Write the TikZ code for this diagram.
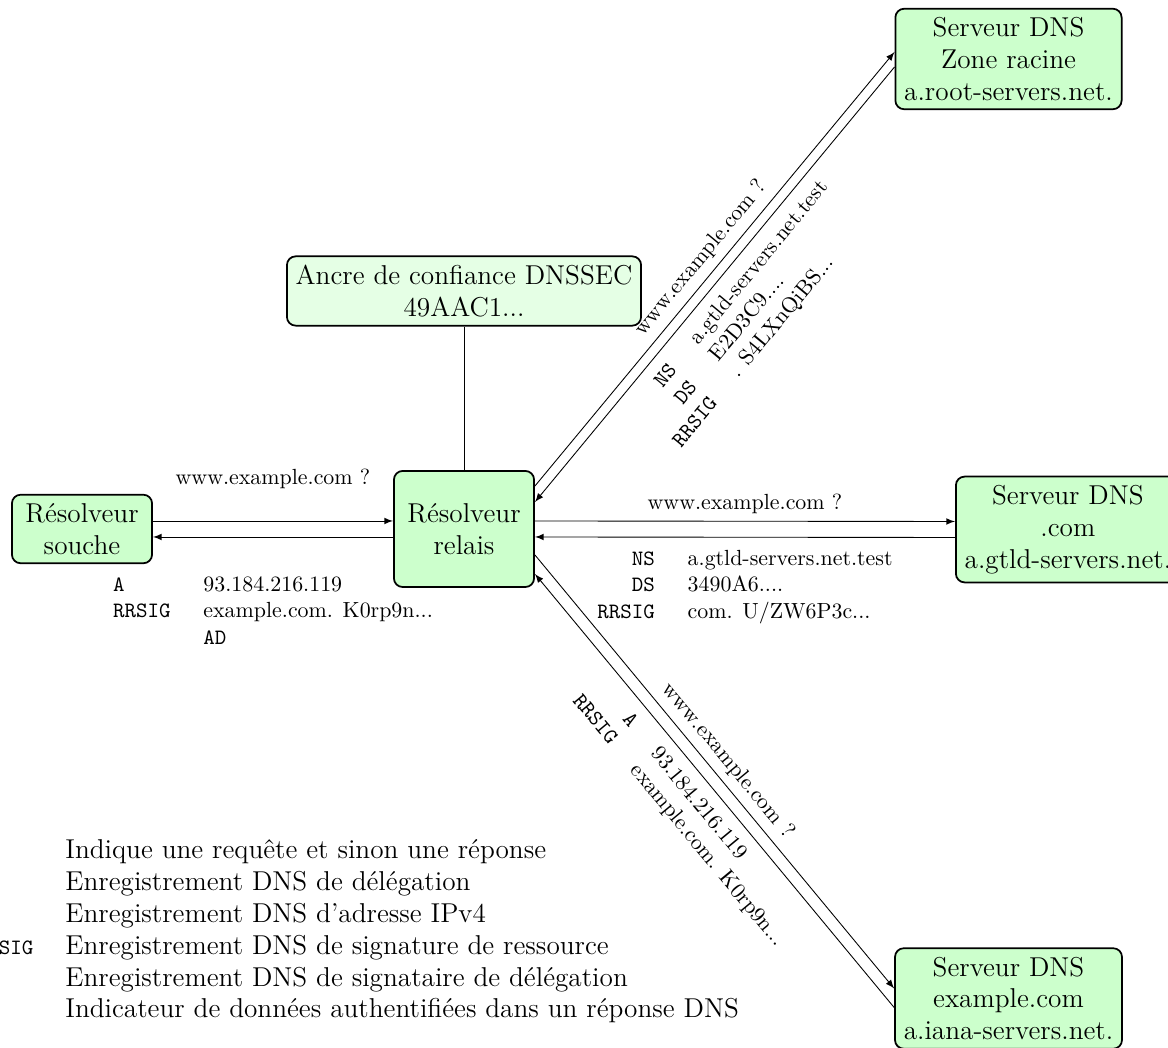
\documentclass[tikz,border=0pt]{standalone}
\usetikzlibrary{calc}
\begin{document}
\begin{tikzpicture}[x=0.4566pt, y=0.4566pt,
  box/.style={draw, thick, rounded corners=4pt, fill=green!20, align=center,
    inner sep=4pt, font=\fontsize{12.45}{14.5}\selectfont},
  trustbox/.style={box, fill=green!10},
  msg/.style={-latex},
  lbl/.style={font=\fontsize{10}{12}\selectfont},
]
\useasboundingbox (0,0) rectangle (1168,1048);
\clip (0,0) rectangle (1168,1048);

% resolvers, trust anchor and authoritative servers
\node[box, minimum width=64pt, minimum height=31pt] (souche) at (82,519) {Résolveur\\souche};
\node[box, minimum width=64pt, minimum height=53pt] (relais) at (464,519) {Résolveur\\relais};
\node[trustbox] (trust) at (464,757) {Ancre de confiance DNSSEC\\49AAC1...};
\node[box] (root) at (1008.5,989) {Serveur DNS\\Zone racine\\a.root-servers.net.};
\node[box, anchor=west] (tld) at (955,518.5) {Serveur DNS\\.com\\a.gtld-servers.net.};
\node[box] (zone) at (1008.5,49.5) {Serveur DNS\\example.com\\a.iana-servers.net.};

\draw (trust.south) -- (relais.north);

% stub <-> recursive resolver
\draw[msg] ($(souche.east)+(0,8)$) -- node[lbl, midway, above=11pt] {www.example.com~?} ($(relais.west)+(0,8)$);
\draw[msg] ($(relais.west)+(0,-8)$) -- node[lbl, midway, below=13pt]
  {\begin{tabular}{@{}l@{\hspace{15pt}}l@{}}
   \texttt{A} & 93.184.216.119\\
   \texttt{RRSIG} & example.com. K0rp9n...\\
   & \texttt{AD}
   \end{tabular}} ($(souche.east)+(0,-8)$);

% recursive resolver <-> root zone
\draw[msg] ($(relais.east)+(0,43)$) -- node[lbl, midway, sloped, above] {www.example.com~?} ($(root.west)+(0,7)$);
\draw[msg] ($(root.west)+(0,-8)$) -- node[lbl, midway, sloped, below]
  {\begin{tabular}{@{}r@{\hspace{15pt}}l@{}}
   \texttt{NS} & a.gtld-servers.net.test\\
   \texttt{DS} & E2D3C9....\\
   \texttt{RRSIG} & . S4LXnQiBS...
   \end{tabular}} ($(relais.east)+(0,27)$);

% recursive resolver <-> .com
\draw[msg] ($(relais.east)+(0,8)$) -- node[lbl, midway, above] {www.example.com~?} ($(tld.west)+(0,8)$);
\draw[msg] ($(tld.west)+(0,-8)$) -- node[lbl, midway, below=1pt]
  {\begin{tabular}{@{}r@{\hspace{15pt}}l@{}}
   \texttt{NS} & a.gtld-servers.net.test\\
   \texttt{DS} & 3490A6....\\
   \texttt{RRSIG} & com. U/ZW6P3c...
   \end{tabular}} ($(relais.east)+(0,-8)$);

% recursive resolver <-> example.com
\draw[msg] ($(relais.east)+(0,-26)$) -- node[lbl, midway, sloped, above] {www.example.com~?} ($(zone.west)+(0,10)$);
\draw[msg] ($(zone.west)+(0,-9)$) -- node[lbl, midway, sloped, below]
  {\begin{tabular}{@{}r@{\hspace{15pt}}l@{}}
   \texttt{A} & 93.184.216.119\\
   \texttt{RRSIG} & example.com. K0rp9n...
   \end{tabular}} ($(relais.east)+(0,-45)$);

% legend
\node[anchor=base west, inner sep=0pt, font=\fontsize{12.45}{14.5}\selectfont] (legend) at (-24.5,189)
  {\begin{tabular}[t]{@{}l@{\hspace{14.6pt}}l@{}}
   & Indique une requête et sinon une réponse\\
   & Enregistrement DNS de délégation\\
   & Enregistrement DNS d’adresse IPv4\\
   \fontsize{10}{12}\selectfont\texttt{RRSIG} & Enregistrement DNS de signature de ressource\\
   & Enregistrement DNS de signataire de délégation\\
   & Indicateur de données authentifiées dans un réponse DNS
   \end{tabular}};
\end{tikzpicture}
\end{document}
